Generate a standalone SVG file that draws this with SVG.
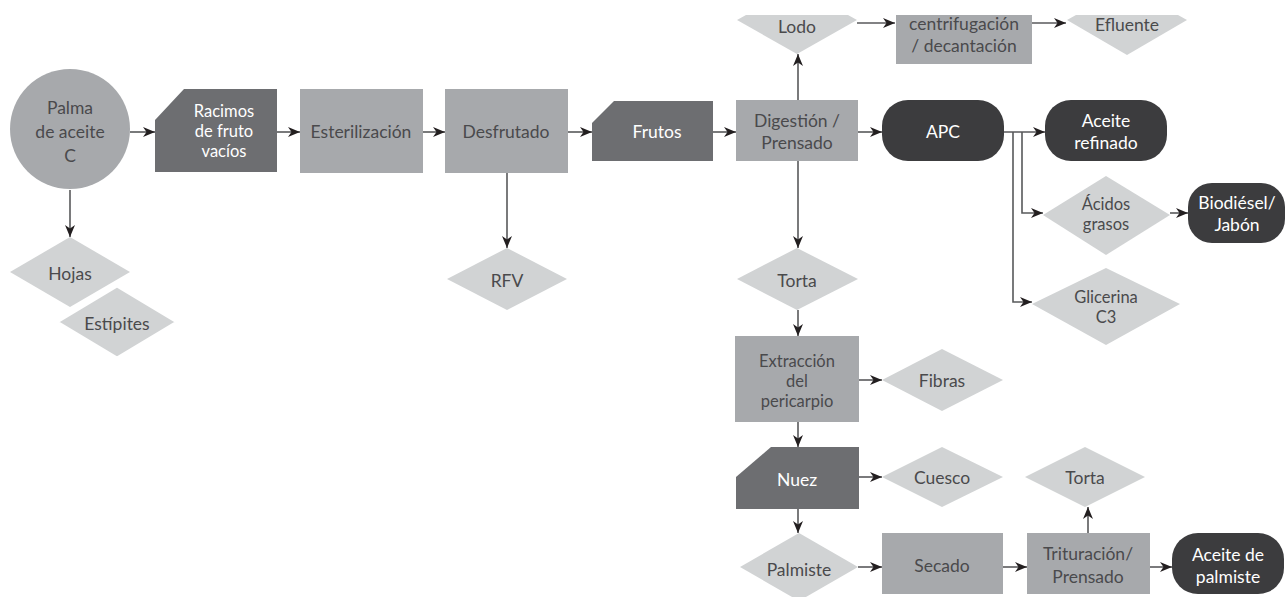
<svg xmlns="http://www.w3.org/2000/svg" width="1286" height="597" viewBox="0 0 1286 597">
<defs>
<style>
.t{font-family:Lato,"Open Sans","Liberation Sans",sans-serif;font-size:17.5px;text-anchor:middle}
.s{font-size:16.5px}
.dk{fill:#4a4a4c}
.lt{fill:#ffffff}
.dia{fill:#d1d3d4}
.proc{fill:#a7a9ac}
.data{fill:#6d6e71}
.term{fill:#3c3c3e}
.c{fill:none;stroke:#58595b;stroke-width:1.6}
</style>
<marker id="ah" viewBox="0 0 12 10" refX="12" refY="5" markerWidth="12" markerHeight="10" orient="auto" markerUnits="userSpaceOnUse">
<path d="M0,0 L12,5 L0,10 L3.5,5 z" fill="#231f20"/>
</marker>
</defs>
<rect width="1286" height="597" fill="#ffffff"/>

<g id="connectors">
<path class="c" d="M130,132 H155" marker-end="url(#ah)"/>
<path class="c" d="M277,132 H300" marker-end="url(#ah)"/>
<path class="c" d="M423,132 H445" marker-end="url(#ah)"/>
<path class="c" d="M568,132 H592" marker-end="url(#ah)"/>
<path class="c" d="M713,132 H736" marker-end="url(#ah)"/>
<path class="c" d="M858,132 H882" marker-end="url(#ah)"/>
<path class="c" d="M1004,132 H1045" marker-end="url(#ah)"/>
<path class="c" d="M70,190 V237" marker-end="url(#ah)"/>
<path class="c" d="M507,173 V248" marker-end="url(#ah)"/>
<path class="c" d="M798,100 V54" marker-end="url(#ah)"/>
<path class="c" d="M857,23 H895" marker-end="url(#ah)"/>
<path class="c" d="M1032,23 H1066" marker-end="url(#ah)"/>
<path class="c" d="M798,161 V248" marker-end="url(#ah)"/>
<path class="c" d="M1022,132 V213 H1043" marker-end="url(#ah)"/>
<path class="c" d="M1013,132 V302 H1032" marker-end="url(#ah)"/>
<path class="c" d="M1170,213 H1188" marker-end="url(#ah)"/>
<path class="c" d="M798,310 V336" marker-end="url(#ah)"/>
<path class="c" d="M859,380 H882" marker-end="url(#ah)"/>
<path class="c" d="M798,422 V447" marker-end="url(#ah)"/>
<path class="c" d="M859,477 H882" marker-end="url(#ah)"/>
<path class="c" d="M798,509 V533" marker-end="url(#ah)"/>
<path class="c" d="M858,567 H882" marker-end="url(#ah)"/>
<path class="c" d="M1003,567 H1027" marker-end="url(#ah)"/>
<path class="c" d="M1088,533 V507" marker-end="url(#ah)"/>
<path class="c" d="M1150,567 H1172" marker-end="url(#ah)"/>
</g>

<g id="palma">
<circle cx="70" cy="129" r="60" class="proc"/>
<text class="t dk" x="70" y="114">Palma</text>
<text class="t dk" x="70" y="138">de aceite</text>
<text class="t dk" x="70" y="162">C</text>
</g>

<g id="racimos">
<polygon class="data" points="184,89 277,89 277,172 155,172 155,120"/>
<text class="t s lt" x="224" y="117">Racimos</text>
<text class="t s lt" x="224" y="137">de fruto</text>
<text class="t s lt" x="224" y="157">vacíos</text>
</g>

<g id="esterilizacion">
<rect class="proc" x="300" y="89" width="123" height="84"/>
<text class="t dk" x="361" y="138">Esterilización</text>
</g>

<g id="desfrutado">
<rect class="proc" x="445" y="89" width="123" height="84"/>
<text class="t dk" x="506" y="138">Desfrutado</text>
</g>

<g id="frutos">
<polygon class="data" points="614,101 713,101 713,161 592,161 592,123"/>
<text class="t lt" x="657" y="138">Frutos</text>
</g>

<g id="digestion">
<rect class="proc" x="736" y="100" width="122" height="61"/>
<text class="t dk" x="797" y="127">Digestión /</text>
<text class="t dk" x="797" y="149">Prensado</text>
</g>

<g id="apc">
<rect class="term" x="882" y="100" width="122" height="61" rx="26"/>
<text class="t lt" x="943" y="138">APC</text>
</g>

<g id="aceite-refinado">
<rect class="term" x="1045" y="100" width="122" height="61" rx="26"/>
<text class="t lt" x="1106" y="127">Aceite</text>
<text class="t lt" x="1106" y="149">refinado</text>
</g>

<g id="lodo">
<polygon class="dia" points="746,15 848,15 857,20 797,54 737,20"/>
<text class="t dk" x="797" y="33">Lodo</text>
</g>

<g id="centrifugacion">
<rect class="proc" x="896" y="15" width="136" height="49"/>
<text class="t dk" x="964" y="30">centrifugación</text>
<text class="t dk" x="964" y="52">/ decantación</text>
</g>

<g id="efluente">
<polygon class="dia" points="1076,15 1178,15 1187,20 1127,55 1067,20"/>
<text class="t dk" x="1127" y="31">Efluente</text>
</g>

<g id="acidos">
<polygon class="dia" points="1043,215 1106,176 1170,215 1106,255"/>
<text class="t s dk" x="1106" y="210">Ácidos</text>
<text class="t s dk" x="1106" y="230">grasos</text>
</g>

<g id="biodiesel">
<rect class="term" x="1188" y="183" width="97" height="60" rx="24"/>
<text class="t lt" x="1237" y="209">Biodiésel/</text>
<text class="t lt" x="1237" y="231">Jabón</text>
</g>

<g id="glicerina">
<polygon class="dia" points="1032,304 1106,268 1180,304 1106,345"/>
<text class="t s dk" x="1106" y="303">Glicerina</text>
<text class="t s dk" x="1106" y="323">C3</text>
</g>

<g id="hojas">
<polygon class="dia" points="10,272 70,237 130,272 70,307"/>
<text class="t dk" x="70" y="280">Hojas</text>
</g>

<g id="estipites">
<polygon class="dia" points="57,322 117,286 177,322 117,358" stroke="#ffffff" stroke-width="3"/>
<text class="t dk" x="117" y="330">Estípites</text>
</g>

<g id="rfv">
<polygon class="dia" points="447,279 507,248 567,279 507,310"/>
<text class="t dk" x="507" y="287">RFV</text>
</g>

<g id="torta1">
<polygon class="dia" points="737,279 797,248 858,279 797,310"/>
<text class="t dk" x="797" y="287">Torta</text>
</g>

<g id="extraccion">
<rect class="proc" x="735" y="336" width="124" height="86"/>
<text class="t s dk" x="797" y="367">Extracción</text>
<text class="t s dk" x="797" y="387">del</text>
<text class="t s dk" x="797" y="407">pericarpio</text>
</g>

<g id="fibras">
<polygon class="dia" points="882,380 942,349 1003,380 942,411"/>
<text class="t dk" x="942" y="387">Fibras</text>
</g>

<g id="nuez">
<polygon class="data" points="771,447 859,447 859,509 736,509 736,477"/>
<text class="t lt" x="797" y="486">Nuez</text>
</g>

<g id="cuesco">
<polygon class="dia" points="882,477 942,447 1003,477 942,507"/>
<text class="t dk" x="942" y="484">Cuesco</text>
</g>

<g id="torta2">
<polygon class="dia" points="1025,477 1085,447 1145,477 1085,507"/>
<text class="t dk" x="1085" y="484">Torta</text>
</g>

<g id="palmiste">
<polygon class="dia" points="740,567 799,533 858,567 799,601"/>
<text class="t dk" x="799" y="576">Palmiste</text>
</g>

<g id="secado">
<rect class="proc" x="882" y="533" width="121" height="61"/>
<text class="t dk" x="942" y="572">Secado</text>
</g>

<g id="trituracion">
<rect class="proc" x="1027" y="533" width="123" height="61"/>
<text class="t dk" x="1088" y="560">Trituración/</text>
<text class="t dk" x="1088" y="583">Prensado</text>
</g>

<g id="aceite-palmiste">
<rect class="term" x="1172" y="533" width="112" height="61" rx="26"/>
<text class="t lt" x="1228" y="561">Aceite de</text>
<text class="t lt" x="1228" y="583">palmiste</text>
</g>
</svg>
